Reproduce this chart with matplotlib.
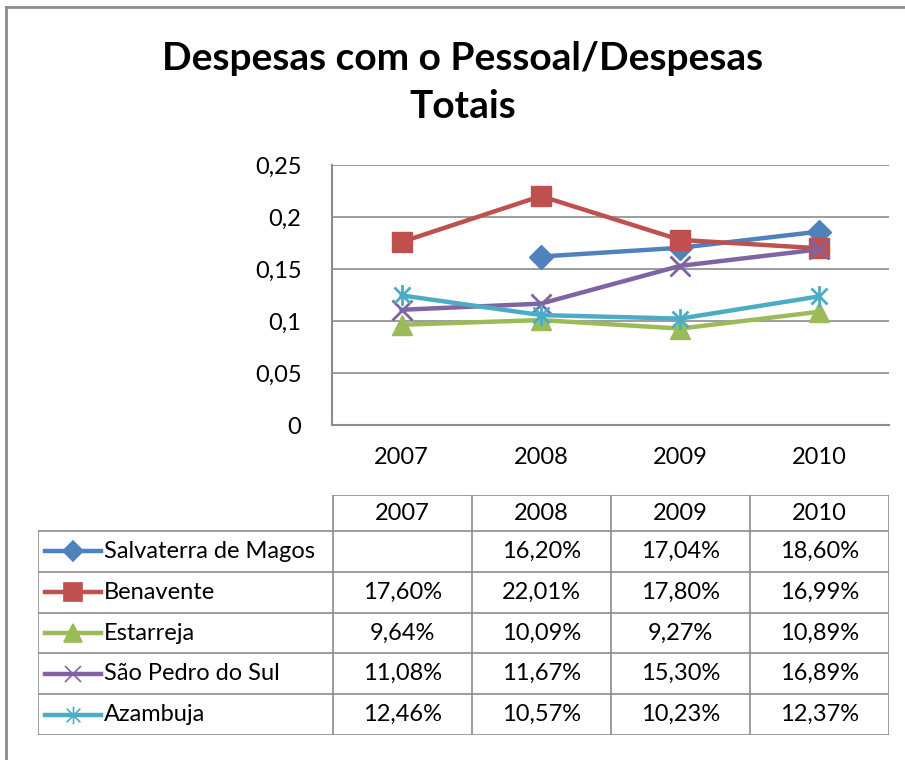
import numpy as np
import matplotlib.pyplot as plt
from matplotlib.lines import Line2D
from matplotlib.path import Path

plt.rcParams['font.family'] = ['Lato', 'DejaVu Sans']

# Dados
anos = ['2007', '2008', '2009', '2010']
salvaterra = [np.nan, 0.1620, 0.1704, 0.1860]
benavente = [0.1760, 0.2201, 0.1780, 0.1699]
estarreja = [0.0964, 0.1009, 0.0927, 0.1089]
sao_pedro = [0.1108, 0.1167, 0.1530, 0.1689]
azambuja = [0.1246, 0.1057, 0.1023, 0.1237]

nomes = ['Salvaterra de Magos', 'Benavente', 'Estarreja', 'São Pedro do Sul', 'Azambuja']
series = [salvaterra, benavente, estarreja, sao_pedro, azambuja]
cores = ['#4F81BD', '#C0504D', '#9BBB59', '#8064A2', '#4BACC6']

# marcador estrela do Excel (x com traço vertical)
estrela = Path([(-1, -1), (1, 1), (-1, 1), (1, -1), (0, -1.3), (0, 1.3)],
               [Path.MOVETO, Path.LINETO, Path.MOVETO, Path.LINETO, Path.MOVETO, Path.LINETO])
marcadores = ['D', 's', '^', 'x', estrela]
tamanhos = [12, 15, 15, 14, 15]
fs = 17

W, H = 905, 760
fig = plt.figure(figsize=(W / 100, H / 100), dpi=100)

def fx(px):
    return px / W

def fy(py):
    return 1 - py / H

# moldura exterior
fig.add_artist(Line2D([fx(6), 1], [fy(7), fy(7)], color='#8c8c8c', lw=2))
fig.add_artist(Line2D([fx(6), fx(6)], [fy(7), 0], color='#8c8c8c', lw=2))

fig.text(fx(463), fy(58), 'Despesas com o Pessoal/Despesas', ha='center', va='center',
         fontsize=28, fontweight='bold')
fig.text(fx(463), fy(107), 'Totais', ha='center', va='center', fontsize=28, fontweight='bold')

# Grafico
ax = fig.add_axes([fx(332), fy(425), fx(889) - fx(332), fy(165) - fy(425)])
x = np.arange(len(anos))
for y, c, m, s in zip(series, cores, marcadores, tamanhos):
    linha = m == 'x' or m is estrela
    ax.plot(x, y, color=c, lw=3.2, marker=m, markersize=s, markerfacecolor=c,
            markeredgecolor=c, markeredgewidth=2 if linha else 1)
ax.set_xlim(-0.5, 3.5)
ax.set_ylim(0, 0.25)
ax.set_yticks([0, 0.05, 0.1, 0.15, 0.2, 0.25])
ax.set_yticklabels(['0', '0,05', '0,1', '0,15', '0,2', '0,25'])
ax.set_xticks(x)
ax.set_xticklabels(anos)
ax.tick_params(length=0, labelsize=fs, pad=16)
ax.tick_params(axis='y', pad=22)
ax.grid(axis='y', color='#8c8c8c', lw=1.2)
ax.set_axisbelow(True)
for lado in ['top', 'right']:
    ax.spines[lado].set_visible(False)
for lado in ['left', 'bottom']:
    ax.spines[lado].set_color('#8c8c8c')
    ax.spines[lado].set_linewidth(1.5)

# Tabela de dados
tx0, tx1, ty0, ty1 = 38, 889, 495, 735
tab = fig.add_axes([fx(tx0), fy(ty1), fx(tx1) - fx(tx0), fy(ty0) - fy(ty1)])
tab.set_xlim(0, tx1 - tx0)
tab.set_ylim(ty1 - ty0, 0)
tab.axis('off')
larg_rot = 295
larg_col = (tx1 - tx0 - larg_rot) / 4
alt_cab = 36
alt_lin = (ty1 - ty0 - alt_cab) / 5
cl = dict(color='#8c8c8c', lw=1.2)
total = tx1 - tx0
# linhas horizontais
tab.plot([larg_rot, total], [0, 0], **cl)
for i in range(6):
    yy = alt_cab + i * alt_lin
    tab.plot([0, total], [yy, yy], **cl)
# linhas verticais
tab.plot([0, 0], [alt_cab, ty1 - ty0], **cl)
for j in range(5):
    xx = larg_rot + j * larg_col
    tab.plot([xx, xx], [0, ty1 - ty0], **cl)
for j, a in enumerate(anos):
    tab.text(larg_rot + (j + 0.5) * larg_col, alt_cab / 2, a, ha='center', va='center', fontsize=fs)
for i, (nome, y, c, m, s) in enumerate(zip(nomes, series, cores, marcadores, tamanhos)):
    yc = alt_cab + (i + 0.5) * alt_lin
    tab.plot([7, 63], [yc, yc], color=c, lw=3.2)
    tab.plot([35], [yc], marker=m, color=c, markersize=s * 0.85, markeredgewidth=1.2)
    tab.text(66, yc, nome, ha='left', va='center', fontsize=fs)
    for j, v in enumerate(y):
        if not np.isnan(v):
            txt = f'{v * 100:.2f}%'.replace('.', ',')
            tab.text(larg_rot + (j + 0.5) * larg_col, yc, txt, ha='center', va='center', fontsize=fs)

plt.savefig('out.png', dpi=100)
